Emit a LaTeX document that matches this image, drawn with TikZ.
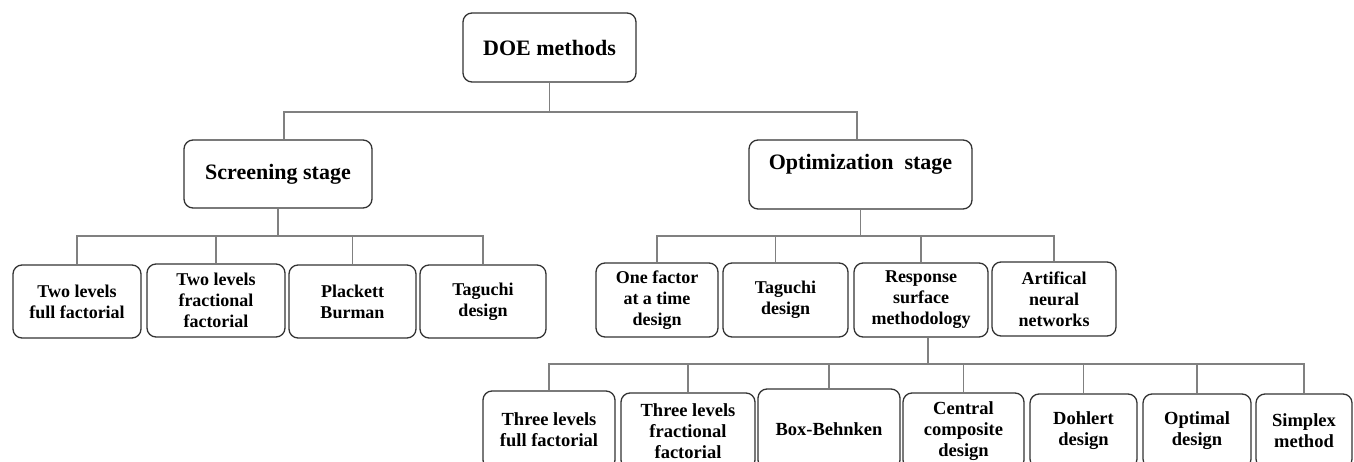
\documentclass[tikz,border=0pt]{standalone}
\usepackage{fontspec}
\setmainfont{Liberation Serif}
\begin{document}
\begin{tikzpicture}[x=1pt,y=-1pt,
  box/.style={draw=black!80, line width=1.3pt, rounded corners=9pt, align=center, inner sep=0pt,
    font=\bfseries\fontsize{18}{21}\selectfont},
  lowbox/.style={box, font=\bfseries\fontsize{18.5}{21}\selectfont},
  bigbox/.style={box, font=\bfseries\fontsize{22}{26}\selectfont},
  conn/.style={draw=black!50, line width=1.1pt}]
\useasboundingbox (0,0) rectangle (1354,462);
\clip (0,0) rectangle (1354,462);
% top levels
\node[bigbox, minimum width=173pt, minimum height=69pt] (doe) at (549.5,47.5) {DOE methods};
\node[bigbox, minimum width=188pt, minimum height=68pt] (scr) at (278,174) {Screening stage};
\node[bigbox, minimum width=223pt, minimum height=69pt] (opt) at (860.5,174.5) {Optimization~~stage\\\mbox{}};
% screening children
\node[box, minimum width=128pt, minimum height=73pt] (s1) at (77,301.5) {Two levels\\full factorial};
\node[box, minimum width=138pt, minimum height=73pt] (s2) at (216,300.5) {Two levels\\fractional\\factorial};
\node[box, minimum width=127pt, minimum height=73pt] (s3) at (352.5,301.5) {Plackett\\Burman};
\node[box, minimum width=126pt, minimum height=73pt] (s4) at (483,301.5) {Taguchi\\design};
% optimization children
\node[box, minimum width=122pt, minimum height=74pt] (o1) at (657,300) {One factor\\at a time\\design};
\node[box, minimum width=125pt, minimum height=74pt] (o2) at (785.5,300) {Taguchi\\design};
\node[box, minimum width=134pt, minimum height=74pt] (o3) at (921,300) {Response\\surface\\methodology};
\node[box, minimum width=124pt, minimum height=74pt] (o4) at (1054,299) {Artifical\\neural\\networks};
% RSM children
\node[lowbox, minimum width=132pt, minimum height=78pt] (r1) at (549,430) {Three levels\\full factorial};
\node[lowbox, minimum width=134pt, minimum height=76pt] (r2) at (688,431) {Three levels\\fractional\\factorial};
\node[lowbox, minimum width=142pt, minimum height=80pt] (r3) at (829,429) {Box-Behnken};
\node[lowbox, minimum width=121pt, minimum height=76pt] (r4) at (963.5,431) {Central\\composite\\design};
\node[lowbox, minimum width=107pt, minimum height=74pt] (r5) at (1083.5,431) {Dohlert\\design};
\node[lowbox, minimum width=108pt, minimum height=74pt] (r6) at (1197,431) {Optimal\\design};
\node[lowbox, minimum width=96pt, minimum height=74pt] (r7) at (1304,431) {Simplex\\method};
% bus levels and taps
\coordinate (bus0) at (0,112);
\coordinate (bus1) at (0,236);
\coordinate (bus2) at (0,364);
\coordinate (scrT) at ([xshift=6pt]scr.north);
\coordinate (optT) at ([xshift=-3.5pt]opt.north);
\coordinate (o2T) at ([xshift=-10pt]o2.north);
\coordinate (rsmB) at ([xshift=7pt]o3.south);
% level 1
\draw[conn] (doe.south) -- (doe.south |- bus0);
\draw[conn] (scrT) -- (scrT |- bus0) -- (optT |- bus0) -- (optT);
% screening
\draw[conn] (scr.south) -- (scr.south |- bus1);
\draw[conn] (s1.north) -- (s1.north |- bus1) -- (s4.north |- bus1) -- (s4.north);
\draw[conn] (s2.north) -- (s2.north |- bus1);
\draw[conn] (s3.north) -- (s3.north |- bus1);
% optimization
\draw[conn] (opt.south) -- (opt.south |- bus1);
\draw[conn] (o1.north) -- (o1.north |- bus1) -- (o4.north |- bus1) -- (o4.north);
\draw[conn] (o2T) -- (o2T |- bus1);
\draw[conn] (o3.north) -- (o3.north |- bus1);
% RSM
\draw[conn] (rsmB) -- (rsmB |- bus2);
\draw[conn] (r1.north) -- (r1.north |- bus2) -- (r7.north |- bus2) -- (r7.north);
\draw[conn] (r2.north) -- (r2.north |- bus2);
\draw[conn] (r3.north) -- (r3.north |- bus2);
\draw[conn] (r4.north) -- (r4.north |- bus2);
\draw[conn] (r5.north) -- (r5.north |- bus2);
\draw[conn] (r6.north) -- (r6.north |- bus2);
\end{tikzpicture}
\end{document}
